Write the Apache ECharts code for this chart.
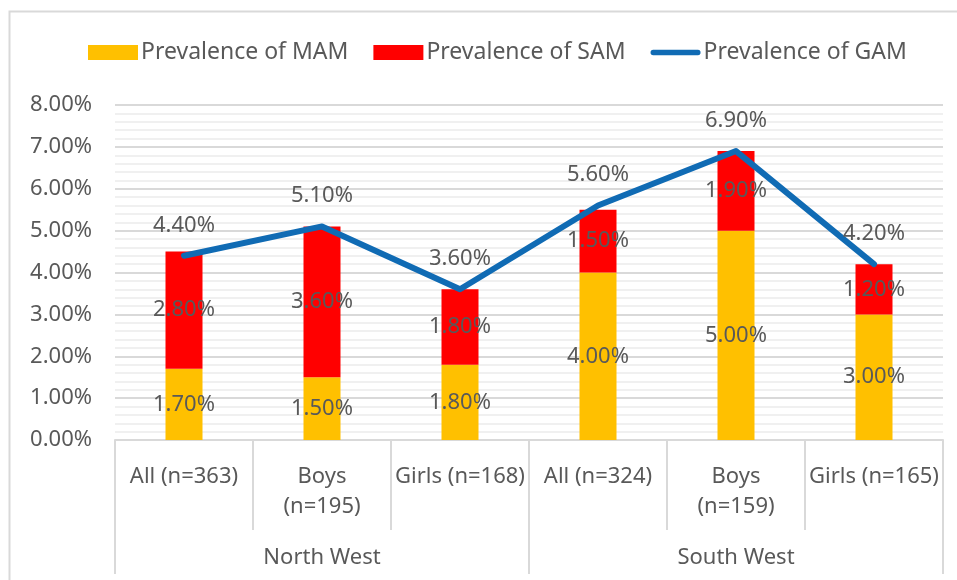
<!DOCTYPE html>
<html>
<head>
<meta charset="utf-8">
<script src="https://cdn.jsdelivr.net/npm/echarts@6/dist/echarts.min.js"></script>
<style>
  html, body { margin: 0; padding: 0; background: #fff; }
  #chart { width: 957px; height: 580px; }
</style>
</head>
<body>
<div id="chart"></div>
<script>
// data (values in percent)
var categories = ['All (n=363)', 'Boys\n(n=195)', 'Girls (n=168)', 'All (n=324)', 'Boys\n(n=159)', 'Girls (n=165)'];
var regions = ['North West', 'South West'];
var mam = [1.7, 1.5, 1.8, 4.0, 5.0, 3.0];
var sam = [2.8, 3.6, 1.8, 1.5, 1.9, 1.2];
var gam = [4.4, 5.1, 3.6, 5.6, 6.9, 4.2];

var textColor = '#595959';
var gridColor = '#d9d9d9';
var font = 'Noto Sans';
var fs = 22;

function pct(v) {
    return v.toFixed(2) + '%';
}

var myChart = echarts.init(document.getElementById('chart'));
var option = {
    backgroundColor: '#fff',
    textStyle: { fontFamily: font },
    graphic: [{
        type: 'rect',
        z: -10,
        shape: { x: 9.5, y: 11.5, width: 1000, height: 1000 },
        style: { fill: 'none', stroke: gridColor, lineWidth: 2 }
    }],
    legend: {
        left: 83,
        top: 36,
        itemWidth: 50,
        itemHeight: 15,
        itemGap: 25,
        textStyle: { color: textColor, fontSize: 23, fontFamily: font, padding: [0, 0, 0, -2] },
        data: [
            { name: 'Prevalence of MAM', icon: 'rect' },
            { name: 'Prevalence of SAM', icon: 'rect' },
            {
                name: 'Prevalence of GAM',
                icon: 'path://M3,0 L54,0 A3,3 0 0 1 54,6 L3,6 A3,3 0 0 1 3,0 Z'
            }
        ]
    },
    grid: {
        left: 115,
        right: 14,
        top: 105,
        bottom: 140
    },
    xAxis: [
        {
            type: 'category',
            data: categories,
            boundaryGap: true,
            axisLine: { lineStyle: { color: gridColor, width: 2 } },
            axisTick: { show: true, length: 90, lineStyle: { color: gridColor, width: 2 } },
            axisLabel: {
                interval: 0,
                color: textColor,
                fontSize: fs,
                lineHeight: 30,
                margin: 22
            }
        },
        {
            type: 'category',
            data: regions,
            position: 'bottom',
            offset: 90,
            boundaryGap: true,
            axisLine: { show: false },
            axisTick: { show: true, length: 44, lineStyle: { color: gridColor, width: 2 } },
            axisLabel: {
                interval: 0,
                color: textColor,
                fontSize: fs,
                lineHeight: 30,
                margin: 13
            }
        }
    ],
    yAxis: {
        type: 'value',
        min: 0,
        max: 8,
        interval: 1,
        axisLine: { show: false },
        axisTick: { show: false },
        axisLabel: {
            color: textColor,
            fontSize: fs,
            margin: 23,
            formatter: function (v) { return pct(v); }
        },
        splitLine: { show: true, lineStyle: { color: gridColor, width: 2 } },
        minorTick: { show: false, splitNumber: 5 },
        minorSplitLine: { show: true, lineStyle: { color: '#f0f0f0', width: 2 } }
    },
    series: [
        {
            name: 'Prevalence of MAM',
            type: 'bar',
            stack: 'total',
            barWidth: 37,
            data: mam,
            itemStyle: { color: '#FFC000' },
            label: {
                show: true,
                position: 'inside',
                color: textColor,
                fontSize: fs,
                formatter: function (p) { return pct(p.value); }
            }
        },
        {
            name: 'Prevalence of SAM',
            type: 'bar',
            stack: 'total',
            barWidth: 37,
            data: sam,
            itemStyle: { color: '#FF0000' },
            label: {
                show: true,
                position: 'inside',
                color: textColor,
                fontSize: fs,
                formatter: function (p) { return pct(p.value); }
            }
        },
        {
            name: 'Prevalence of GAM',
            type: 'line',
            data: gam,
            symbol: 'circle',
            symbolSize: 1,
            showSymbol: true,
            z: 5,
            lineStyle: { color: '#106BB4', width: 6, cap: 'round', join: 'round' },
            itemStyle: { color: '#106BB4' },
            label: {
                show: true,
                position: 'top',
                distance: 19,
                color: textColor,
                fontSize: fs,
                formatter: function (p) { return pct(p.value); }
            }
        }
    ]
};
myChart.setOption(option);
</script>
</body>
</html>
